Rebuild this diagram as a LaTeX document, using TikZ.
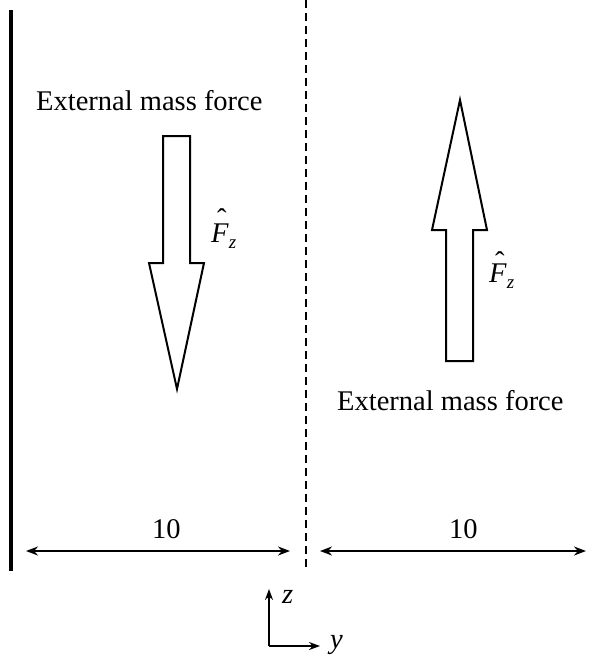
\documentclass[tikz,border=0pt]{standalone}
\usepackage{fontspec}
\setmainfont{Liberation Serif}
\usetikzlibrary{arrows.meta}
\newcommand\myhatF[1]{\makebox[0pt][l]{\hspace{6pt}\raisebox{#1}{\char"02C6}}\textit{F}\raisebox{-6pt}{\fontsize{19}{19}\selectfont\textit{z}}}
\begin{document}
\begin{tikzpicture}[x=1pt,y=-1pt,
  lbl/.style={inner sep=0pt,anchor=base west,font=\fontsize{28.5}{30}\selectfont},
  arrowshape/.style={draw,line width=2pt,line join=miter},
  dim/.style={line width=1.8pt,{Stealth[length=12pt,width=9pt]}-{Stealth[length=12pt,width=9pt]}},
  axis/.style={line width=1.8pt,-{Stealth[length=11pt,width=8pt]}}]
\useasboundingbox (0,0) rectangle (595,656);
% wall and symmetry line
\coordinate (wt) at (11,10);
\coordinate (wb) at (11,571);
\draw[line width=3.5pt] (wt) -- (wb);
\coordinate (st) at (306,0);
\coordinate (sb) at (306,571);
\draw[line width=2pt,dash pattern=on 8pt off 5pt] (st) -- (sb);
% left downward arrow
\draw[arrowshape] (163,136) -- (190,136) -- (190,263) -- (204,263) -- (177,389) -- (149,263) -- (163,263) -- cycle;
% right upward arrow
\draw[arrowshape] (446,361) -- (473,361) -- (473,230) -- (487,230) -- (460,100) -- (432,230) -- (446,230) -- cycle;
% labels
\node[lbl] (t1) at (36,110) {External mass force};
\node[lbl] (t2) at (337,410) {External mass force};
\node[lbl] (f1) at (211,242) {\myhatF{14pt}};
\node[lbl] (f2) at (489,282) {\myhatF{11pt}};
% dimensions
\coordinate (d1a) at (26,551);
\coordinate (d1b) at (290,551);
\coordinate (d2a) at (320,551);
\coordinate (d2b) at (586,551);
\draw[dim] (d1a) -- (d1b);
\draw[dim] (d2a) -- (d2b);
\node[lbl] (n1) at (152,538) {10};
\node[lbl] (n2) at (449,538) {10};
% axes
\coordinate (o) at (269,646);
\coordinate (oz) at (269,589);
\coordinate (oy) at (320,646);
\draw[axis] (o) -- (oz);
\draw[axis] (o) -- (oy);
\node[lbl] (zl) at (282,603) {\textit{z}};
\node[lbl] (yl) at (330,648) {\textit{y}};
\end{tikzpicture}
\end{document}
